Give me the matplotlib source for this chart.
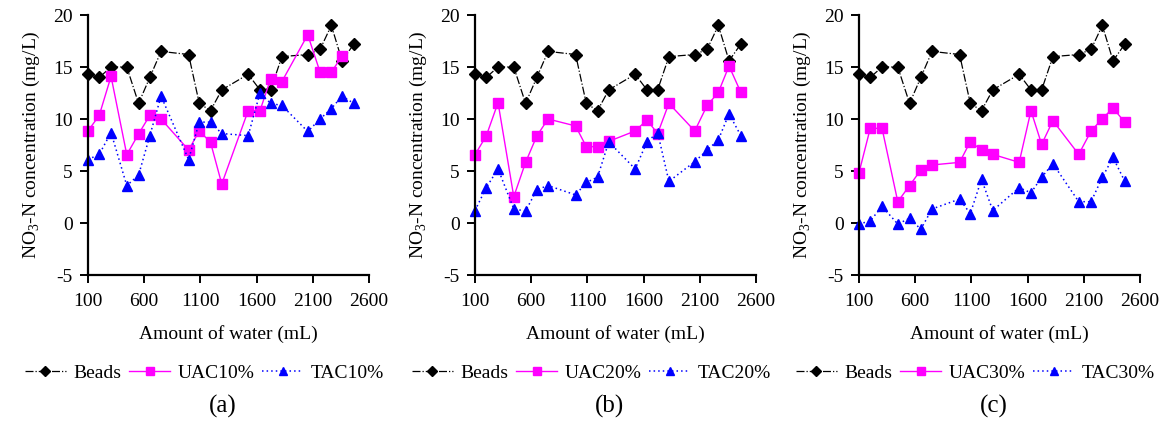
import numpy as np
import matplotlib
matplotlib.use("Agg")
import matplotlib.pyplot as plt

plt.rcParams['font.family'] = ['Liberation Serif', 'DejaVu Serif']
plt.rcParams['mathtext.fontset'] = 'custom'
plt.rcParams['mathtext.rm'] = 'Liberation Serif'
plt.rcParams['axes.unicode_minus'] = False

# 水量 (mL)
water = [100, 200, 305, 445, 550, 650, 750, 995, 1090, 1190,
         1290, 1525, 1630, 1725, 1825, 2055, 2165, 2265, 2360, 2465]

beads = [14.3, 14.0, 15.0, 15.0, 11.5, 14.0, 16.5, 16.2, 11.5, 10.8,
         12.8, 14.3, 12.8, 12.8, 16.0, 16.2, 16.7, 19.0, 15.6, 17.2]

# (a) 10%  (UAC10% は最後の点なし)
uac10 = [8.85, 10.35, 14.1, 6.57, 8.56, 10.35, 10.0, 7.02, 8.85, 7.76,
         3.75, 10.8, 10.8, 13.85, 13.6, 18.1, 14.5, 14.5, 16.05, np.nan]
tac10 = [6.1, 6.6, 8.7, 3.6, 4.6, 8.4, 12.2, 6.1, 9.7, 9.7,
         8.6, 8.4, 12.5, 11.5, 11.3, 8.8, 10.0, 11.0, 12.2, 11.5]

# (b) 20%
uac20 = [6.57, 8.37, 11.57, 2.53, 5.83, 8.37, 10.0, 9.33, 7.34, 7.34,
         7.85, 8.85, 9.9, 8.6, 11.5, 8.85, 11.3, 12.56, 15.1, 12.56]
tac20 = [1.2, 3.4, 5.2, 1.35, 1.15, 3.2, 3.6, 2.7, 3.9, 4.4,
         7.8, 5.2, 7.8, 8.7, 4.0, 5.9, 7.0, 8.0, 10.5, 8.4]

# (c) 30%
uac30 = [4.84, 9.1, 9.1, 2.05, 3.6, 5.1, 5.58, 5.83, 7.82, 7.02,
         6.6, 5.83, 10.8, 7.56, 9.84, 6.6, 8.85, 10.03, 11.06, 9.68]
tac30 = [-0.1, 0.2, 1.6, -0.1, 0.45, -0.6, 1.35, 2.3, 0.9, 4.2,
         1.2, 3.4, 2.9, 4.4, 5.7, 2.05, 2.05, 4.4, 6.3, 4.0]

panels = [('(a)', '10%', uac10, tac10),
          ('(b)', '20%', uac20, tac20),
          ('(c)', '30%', uac30, tac30)]

W, H = 1169, 423
fig = plt.figure(figsize=(W / 100, H / 100), dpi=100)

# 各パネルの軸位置 (ピクセル)
lefts = [88, 475, 859]
ax_w = 281
top, bottom = 15, 275
fs = 14


def draw_panel(ax, label, pct, uac, tac):
    ax.plot(water, beads, color='black', ls='-.', lw=0.9, marker='D',
            ms=6.5, label='Beads')
    u = np.array(uac, dtype=float)
    m = ~np.isnan(u)
    ax.plot(np.array(water)[m], u[m], color='#FF00FF', ls='-', lw=1.0,
            marker='s', ms=6.5, label='UAC' + pct)
    ax.plot(water, tac, color='#0000FF', ls=(0, (1, 2)), lw=1.1, marker='^',
            ms=7.5, label='TAC' + pct)
    ax.set_xlim(100, 2600)
    ax.set_ylim(-5, 20)
    ax.set_xticks([100, 600, 1100, 1600, 2100, 2600])
    ax.set_yticks([-5, 0, 5, 10, 15, 20])
    for s in ['top', 'right']:
        ax.spines[s].set_visible(False)
    for s in ['left', 'bottom']:
        ax.spines[s].set_linewidth(1.6)
        ax.spines[s].set_clip_on(False)
    ax.tick_params(direction='out', length=6, width=1.4, labelsize=fs)
    ax.tick_params(axis='x', pad=7)
    ax.tick_params(axis='y', pad=5)
    ax.set_xlabel('Amount of water (mL)', fontsize=fs, labelpad=11)
    ax.set_ylabel(r'NO$_{\mathregular{3}}$-N concentration (mg/L)', fontsize=fs,
                  labelpad=8)


for i, (label, pct, uac, tac) in enumerate(panels):
    l = lefts[i]
    ax = fig.add_axes([l / W, 1 - bottom / H, ax_w / W, (bottom - top) / H])
    draw_panel(ax, label, pct, uac, tac)
    for line in ax.get_lines():
        line.set_clip_on(False)
    cx = l + ax_w / 2 - 24
    fig.legend(handles=ax.get_lines(), loc='center',
               bbox_to_anchor=(cx / W, 1 - 373 / H), ncol=3, frameon=False,
               fontsize=fs, handlelength=2.1, handletextpad=0.4,
               columnspacing=0.4, borderaxespad=0, markerscale=0.8)
    fig.text((l + ax_w / 2 - 6) / W, 1 - 406 / H, label, fontsize=18,
             ha='center', va='center')

fig.savefig('out.png', dpi=100)
